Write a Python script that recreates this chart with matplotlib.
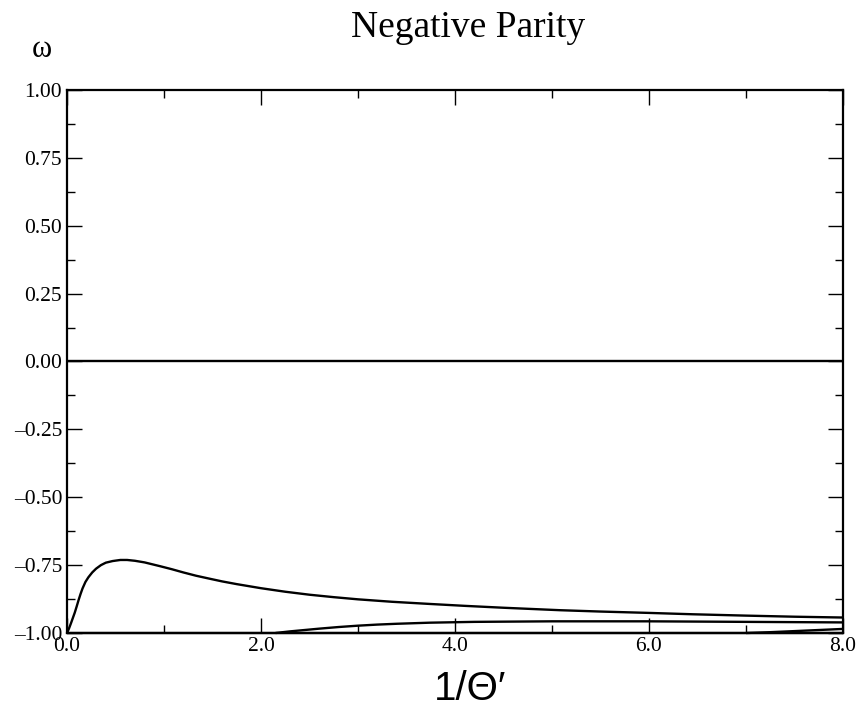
import matplotlib
matplotlib.use("Agg")
import matplotlib.pyplot as plt
from matplotlib.ticker import MultipleLocator, FuncFormatter

# Data
curve_a_x = [0.0, 0.02, 0.04, 0.06, 0.08, 0.10, 0.12, 0.14, 0.16, 0.19, 0.22, 0.26, 0.30,
             0.35, 0.40, 0.47, 0.55, 0.62, 0.70, 0.80, 0.96, 1.08, 1.20, 1.33, 1.47,
             1.60, 1.75, 2.00, 2.25, 2.50, 2.75, 3.00, 3.35, 3.74, 4.10, 4.50, 5.08,
             5.50, 6.00, 6.45, 7.00, 7.50, 8.00]
curve_a_y = [-1.0, -0.984, -0.965, -0.945, -0.925, -0.902, -0.878, -0.856, -0.836, -0.812,
             -0.795, -0.777, -0.763, -0.750, -0.741, -0.735, -0.731, -0.731, -0.734,
             -0.740, -0.754, -0.765, -0.777, -0.789, -0.800, -0.810, -0.820, -0.835,
             -0.848, -0.859, -0.868, -0.876, -0.885, -0.893, -0.900, -0.907, -0.916,
             -0.921, -0.926, -0.931, -0.936, -0.940, -0.943]

curve_b_x = [2.15, 2.30, 2.45, 2.60, 2.80, 3.00, 3.20, 3.40, 3.74, 4.20, 5.00, 6.00, 7.00, 8.00]
curve_b_y = [-1.0, -0.994, -0.989, -0.984, -0.978, -0.973, -0.969, -0.966, -0.962, -0.959,
             -0.957, -0.957, -0.959, -0.961]

curve_c_x = [7.0, 7.25, 7.5, 7.75, 8.0]
curve_c_y = [-1.0, -0.997, -0.993, -0.989, -0.985]

curve_d_x = [0.0, 8.0]
curve_d_y = [-1.0, -1.0]

curve_e_x = [0.0, 8.0]
curve_e_y = [0.0, 0.0]

title = "Negative Parity"
xlabel = "1/\u0398\u2032"
ylabel = "\u03c9"

fig = plt.figure(figsize=(8.59, 7.08), dpi=100)
ax = fig.add_axes([67/859, 1 - 633/708, (843 - 67)/859, (633 - 90)/708])

lw = 1.7
for xs, ys in [(curve_a_x, curve_a_y), (curve_b_x, curve_b_y), (curve_c_x, curve_c_y),
               (curve_d_x, curve_d_y), (curve_e_x, curve_e_y)]:
    ax.plot(xs, ys, color="black", lw=lw, solid_capstyle="butt", clip_on=False)

ax.set_xlim(0, 8)
ax.set_ylim(-1, 1)

for s in ax.spines.values():
    s.set_linewidth(1.6)

ax.xaxis.set_major_locator(MultipleLocator(2))
ax.xaxis.set_minor_locator(MultipleLocator(1))
ax.yaxis.set_major_locator(MultipleLocator(0.25))
ax.yaxis.set_minor_locator(MultipleLocator(0.125))


def fmt(decimals):
    def f(v, pos):
        s = f"{abs(v):.{decimals}f}"
        if v < -1e-9:
            s = "\u2013" + s
        return s
    return f


ax.xaxis.set_major_formatter(FuncFormatter(fmt(1)))
ax.yaxis.set_major_formatter(FuncFormatter(fmt(2)))

ax.tick_params(which="both", direction="in", top=True, right=True, width=1.0)
ax.tick_params(which="major", length=11)
ax.tick_params(which="minor", length=5.5)
ax.tick_params(axis="y", which="major", pad=3.5)
ax.tick_params(axis="x", which="major", pad=3)

for lab in ax.get_xticklabels() + ax.get_yticklabels():
    lab.set_fontfamily("Liberation Serif")
    lab.set_fontsize(15.5)

fig.text(468/859, 1 - 37/708, title, ha="center", va="baseline",
         fontfamily="Liberation Serif", fontsize=27)
fig.text(42/859, 1 - 57/708, ylabel, ha="center", va="baseline",
         fontfamily="Liberation Serif", fontsize=22)
fig.text(470/859, 1 - 700/708, xlabel, ha="center", va="baseline",
         fontfamily="Liberation Sans", fontsize=29)

fig.savefig("out.png", dpi=100)
